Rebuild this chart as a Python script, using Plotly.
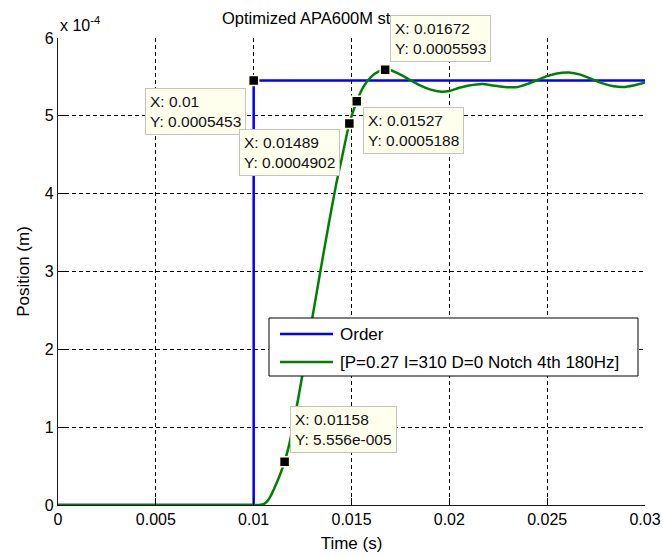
import plotly.graph_objects as go

# ---- data -------------------------------------------------------------
# Step command (Order)
order_t = [0.0, 0.01, 0.01, 0.03]
order_y = [0.0, 0.0, 5.453e-4, 5.453e-4]

# Measured response of the PI + notch controller
resp_t = [0.0, 0.0100, 0.0103, 0.0105, 0.0107, 0.0109, 0.0111, 0.0113, 0.01158,
          0.0118, 0.0120, 0.0123, 0.0126, 0.0130, 0.0134, 0.0138, 0.0142, 0.0145,
          0.01489, 0.01527, 0.0156, 0.0160, 0.0164, 0.01672, 0.0170, 0.0175,
          0.0180, 0.0185, 0.0190, 0.0196, 0.0200, 0.0205, 0.0210, 0.0217, 0.0222,
          0.0228, 0.0235, 0.0240, 0.0245, 0.0250, 0.0255, 0.0261, 0.0267, 0.0272,
          0.0278, 0.0284, 0.0289, 0.0294, 0.0300]
resp_y_e4 = [0.0, 0.0, 0.0, 0.01, 0.05, 0.13, 0.24, 0.36, 0.5556,
             0.76, 1.00, 1.40, 1.83, 2.41, 2.99, 3.56, 4.10, 4.45,
             4.902, 5.188, 5.37, 5.50, 5.57, 5.593, 5.585, 5.53,
             5.46, 5.39, 5.34, 5.31, 5.32, 5.36, 5.39, 5.41, 5.39,
             5.37, 5.37, 5.41, 5.46, 5.51, 5.545, 5.556, 5.53, 5.48,
             5.42, 5.38, 5.37, 5.39, 5.43]
resp_y = [v * 1e-4 for v in resp_y_e4]

series_names = ["Order", "[P=0.27 I=310 D=0 Notch 4th 180Hz]"]

# Data cursors
tip_x = [0.01, 0.01489, 0.01527, 0.01672, 0.01158]
tip_y = [5.453e-4, 4.902e-4, 5.188e-4, 5.593e-4, 5.556e-5]
tip_x_text = ["0.01", "0.01489", "0.01527", "0.01672", "0.01158"]
tip_y_text = ["0.0005453", "0.0004902", "0.0005188", "0.0005593", "5.556e-005"]
# box placement relative to the cursor: (xanchor, yanchor, xshift, yshift)
tip_place = [("right", "top", -8, -7), ("right", "top", -9, -6),
             ("left", "top", 6, -6), ("left", "bottom", 5, 8),
             ("left", "bottom", 5, 9)]

x_ticks = [0, 0.005, 0.01, 0.015, 0.02, 0.025, 0.03]
x_tick_text = ["0", "0.005", "0.01", "0.015", "0.02", "0.025", "0.03"]
y_ticks = [0, 1e-4, 2e-4, 3e-4, 4e-4, 5e-4, 6e-4]
y_tick_text = ["0", "1", "2", "3", "4", "5", "6"]

colors = ["#0000FF", "#008000"]
FONT = "Liberation Sans, Arial, sans-serif"

# ---- figure -----------------------------------------------------------
fig = go.Figure()
fig.add_trace(go.Scatter(x=order_t, y=order_y, mode="lines", name=series_names[0],
                         line=dict(color=colors[0], width=2.5), showlegend=False))
fig.add_trace(go.Scatter(x=resp_t, y=resp_y, mode="lines", name=series_names[1],
                         line=dict(color=colors[1], width=2.5, shape="spline",
                                   smoothing=0.6), showlegend=False))
fig.add_trace(go.Scatter(x=tip_x, y=tip_y, mode="markers", showlegend=False,
                         marker=dict(symbol="square", size=10, color="black",
                                     line=dict(color="#FFFFE6", width=1.5))))

grid = dict(showgrid=True, gridcolor="#000000", gridwidth=1, griddash="4px,3px",
            showline=True, linecolor="#1a1a1a", linewidth=1.2, ticks="inside",
            ticklen=7, tickcolor="#000000", zeroline=False,
            tickfont=dict(family=FONT, size=16, color="#000000"))

fig.update_layout(
    width=663, height=557,
    margin=dict(l=58, r=18, t=38, b=52),
    paper_bgcolor="white", plot_bgcolor="white",
    font=dict(family=FONT, color="#000000"),
    xaxis=dict(range=[0, 0.03], tickvals=x_ticks, ticktext=x_tick_text,
               title=dict(text="Time (s)", font=dict(size=17), standoff=9),
               automargin=False, **grid),
    yaxis=dict(range=[0, 6e-4], tickvals=y_ticks, ticktext=y_tick_text,
               title=dict(text="Position (m)", font=dict(size=17), standoff=10),
               automargin=False, **grid),
)

annotations = [
    dict(text="Optimized APA600M step response", xref="paper", yref="paper",
         x=0.5, y=1, xanchor="center", yanchor="bottom", yshift=9,
         showarrow=False, font=dict(size=16.5)),
    dict(text="x 10<sup>-4</sup>", xref="paper", yref="paper", x=0, y=1,
         xanchor="left", yanchor="bottom", yshift=2, showarrow=False,
         font=dict(size=16)),
]
for tx, ty, sx, sy, (xa, ya, xs, ys) in zip(tip_x, tip_y, tip_x_text, tip_y_text, tip_place):
    annotations.append(dict(
        x=tx, y=ty, xref="x", yref="y", xanchor=xa, yanchor=ya, xshift=xs, yshift=ys,
        text=f"X: {sx}<br>Y: {sy}", align="left", showarrow=False,
        bgcolor="#FFFFEE", bordercolor="#C4C4B8", borderwidth=1, borderpad=4,
        font=dict(size=15.5, color="#111111")))

# legend box
px0, px1, py0, py1 = 58, 645, 38, 505
def to_paper(px, py):
    return (px - px0) / (px1 - px0), (py1 - py) / (py1 - py0)

lx0, ly0 = to_paper(269, 376)
lx1, ly1 = to_paper(638, 318)
shapes = [dict(type="rect", xref="paper", yref="paper", x0=lx0, y0=ly0, x1=lx1, y1=ly1,
               line=dict(color="#000000", width=1), fillcolor="white", layer="above")]
for i, row_py in enumerate([334, 362]):
    sx0, sy = to_paper(280, row_py)
    sx1, _ = to_paper(333, row_py)
    shapes.append(dict(type="line", xref="paper", yref="paper", x0=sx0, x1=sx1,
                       y0=sy, y1=sy, line=dict(color=colors[i], width=2.5), layer="above"))
    tx, _ = to_paper(338, row_py)
    annotations.append(dict(text=series_names[i], xref="paper", yref="paper", x=tx, y=sy,
                            xanchor="left", yanchor="middle", showarrow=False,
                            font=dict(size=17)))

fig.update_layout(annotations=annotations, shapes=shapes)
fig.write_html("out.html")
